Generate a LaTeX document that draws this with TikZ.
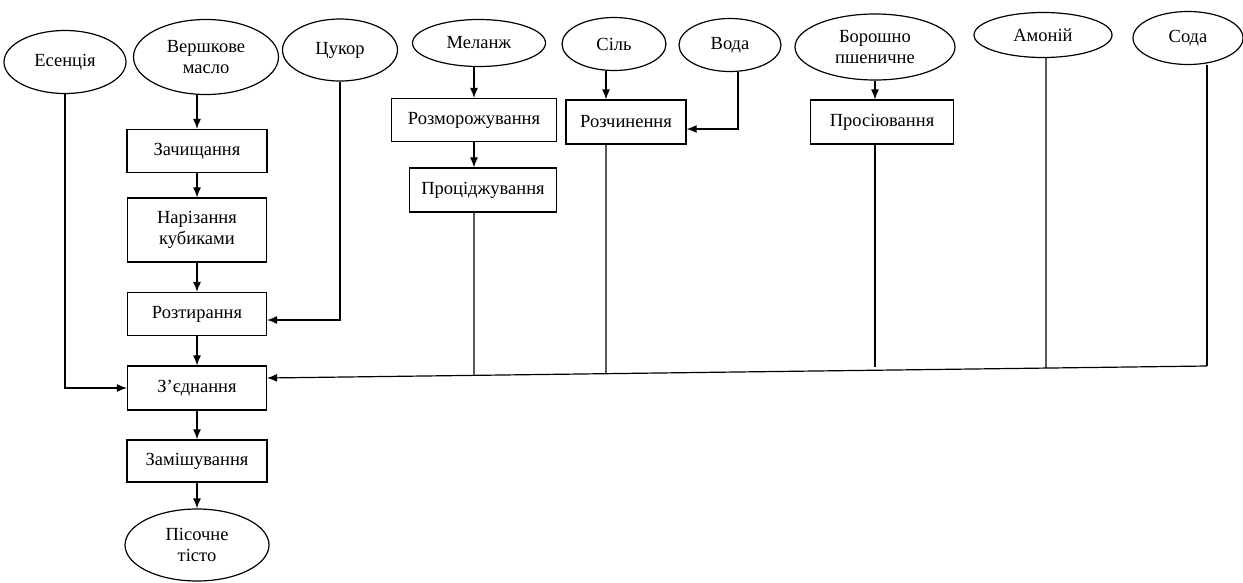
\documentclass[tikz,border=0pt]{standalone}
\usepackage{fontspec}
\setmainfont{Liberation Serif}
\usepackage{tikz}
\usetikzlibrary{shapes.geometric}
\usetikzlibrary{arrows.meta}
\usetikzlibrary{calc}
\tikzset{>={Latex[length=10pt,width=8pt]}}

\begin{document}
\begin{tikzpicture}[x=1pt,y=-1pt,line width=1.2pt,
    font=\fontsize{18.5}{21}\selectfont,
    oval/.style={draw,ellipse,inner sep=0pt,align=center},
    stage/.style={draw,rectangle,inner sep=0pt,align=center}]
    \useasboundingbox (0,0) rectangle (1243,582);
    % raw materials
    \node[oval,minimum width=122,minimum height=63] (ess) at (65,62) {Есенція};
    \node[oval,minimum width=145,minimum height=75] (butter) at (206,57) {Вершкове\\масло};
    \node[oval,minimum width=115,minimum height=62] (sugar) at (340,50) {Цукор};
    \node[oval,minimum width=133,minimum height=47] (melange) at (479,43) {Меланж};
    \node[oval,minimum width=104,minimum height=53] (salt) at (614,44) {Сіль};
    \node[oval,minimum width=102,minimum height=53] (water) at (730,45) {Вода};
    \node[oval,minimum width=160,minimum height=66] (flour) at (875,47) {Борошно\\пшеничне};
    \node[oval,minimum width=138,minimum height=45] (ammon) at (1043,35) {Амоній};
    \node[oval,minimum width=110,minimum height=53] (soda) at (1188,38) {Сода};
    % stages
    \node[stage,minimum width=140,minimum height=43] (clean) at (197,151) {Зачищання};
    \node[stage,minimum width=139,minimum height=64] (cut) at (197,230) {Нарізання\\кубиками};
    \node[stage,minimum width=139,minimum height=43] (rub) at (197,314) {Розтирання};
    \node[stage,minimum width=139,minimum height=44] (join) at (197,388) {З’єднання};
    \node[stage,minimum width=140,minimum height=42] (mix) at (197,461) {Замішування};
    \node[oval,minimum width=144,minimum height=72] (dough) at (197,545) {Пісочне\\тісто};
    \node[stage,minimum width=165,minimum height=43] (thaw) at (474,120) {Розморожування};
    \node[stage,minimum width=147,minimum height=44] (strain) at (483,190) {Проціджування};
    \node[stage,minimum width=120,minimum height=44] (dissolve) at (626,122) {Розчинення};
    \node[stage,minimum width=143,minimum height=44] (sift) at (882,122) {Просіювання};
    % collecting line
    \coordinate (busR) at (1207,366);
    \coordinate (busL) at ($(join.east)+(0,-10)$);
    \coordinate (strainout) at (strain.south -| thaw.south);
    \coordinate (dissout) at ([xshift=-20pt]dissolve.south);
    \coordinate (siftout) at (sift.south -| flour.south);
    \coordinate (ammonout) at ([xshift=3pt]ammon.south);

    \draw[->] (butter.south -| clean.north) -- (clean.north);
    \foreach \a/\b in {clean/cut, cut/rub, rub/join, join/mix, mix/dough} {
      \draw[->] (\a) -- (\b);
    }
    \draw[->] (sugar.south) |- ([yshift=-6pt]rub.east);
    \draw[->] (ess.south) |- (join.west);
    \draw[->] (melange.south -| thaw.south) -- (thaw.north);
    \draw[->] (thaw.south) -- (thaw.south |- strain.north);
    \draw[->] ([xshift=-8pt]salt.south) -- ([xshift=-8pt]salt.south |- dissolve.north);
    \draw[->] ([xshift=8pt]water.south) |- ([yshift=-7pt]dissolve.east);
    \draw[->] (flour.south) -- (flour.south |- sift.north);
    \draw ([xshift=19pt]soda.south) -- (busR);
    \draw[->] (busR) -- (busL);
    \foreach \p in {strainout, dissout, ammonout} {
      \draw (\p) -- (intersection of busL--busR and \p--{$(\p)+(0,100)$});
    }
    \draw (siftout) -- ($(siftout)+(0,222)$);
\end{tikzpicture}
\end{document}
